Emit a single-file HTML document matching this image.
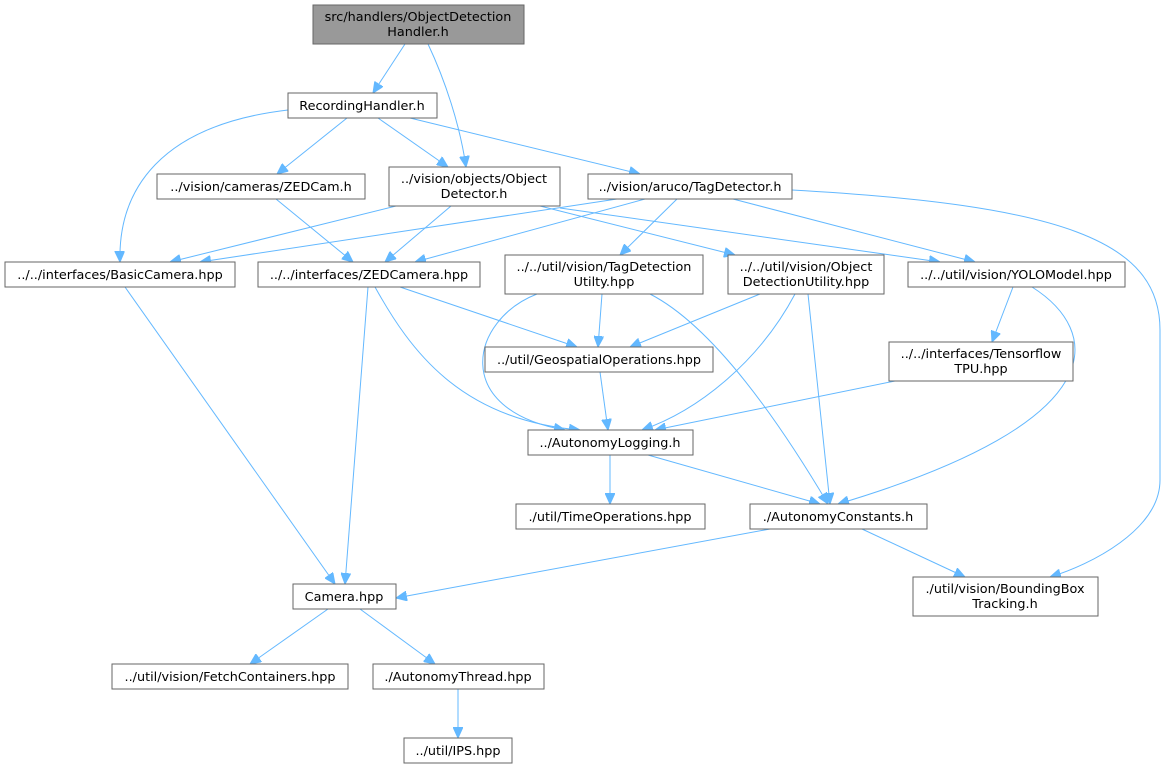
<!DOCTYPE html>
<html><head><meta charset="utf-8"><style>
body{margin:0;background:#fff}
svg text{font-family:"DejaVu Sans","Liberation Sans",sans-serif;font-size:12.8px;fill:#000;text-anchor:middle}
.n{fill:#fff;stroke:#666;stroke-width:1}
.e{fill:none;stroke:#63b8ff;stroke-width:1}
</style></head><body>
<svg width="1169" height="769" viewBox="0 0 1169 769" xmlns="http://www.w3.org/2000/svg">
<defs><marker id="a" markerUnits="userSpaceOnUse" markerWidth="12" markerHeight="10" refX="11" refY="5" orient="auto"><path d="M0,0 L11,5 L0,10 Z" fill="#63b8ff" stroke="#63b8ff"/></marker></defs>
<g class="e" marker-end="url(#a)">
<path d="M405,44 L373,93"/>
<path d="M428,44 C445,80 460,125 466,167"/>
<path d="M288,110 C160,125 118,190 120,262"/>
<path d="M347,118 L277,174"/>
<path d="M378,118 L448,167"/>
<path d="M410,118 L640,174"/>
<path d="M276,199 L353,262"/>
<path d="M396,206 L170,262"/>
<path d="M451,206 L385,262"/>
<path d="M540,206 L735,255"/>
<path d="M560,208 L940,262"/>
<path d="M617,199 L200,262"/>
<path d="M645,199 L415,262"/>
<path d="M677,199 L620,255"/>
<path d="M733,199 L975,262"/>
<path d="M792,190 C1060,205 1160,240 1160,330 L1160,480 C1160,530 1090,565 1050,577"/>
<path d="M368,287 L345,584"/>
<path d="M375,287 C410,350 460,420 580,430"/>
<path d="M400,287 L577,347"/>
<path d="M602,294 L598,347"/>
<path d="M537,294 C470,320 450,410 565,430"/>
<path d="M650,294 C720,330 790,440 828,504"/>
<path d="M760,294 L630,347"/>
<path d="M795,294 C760,360 700,410 642,430"/>
<path d="M808,294 L830,504"/>
<path d="M1013,287 L992,342"/>
<path d="M1032,287 C1100,330 1120,420 838,504"/>
<path d="M895,381 L655,430"/>
<path d="M600,372 L608,430"/>
<path d="M610,455 L610,504"/>
<path d="M648,455 L820,504"/>
<path d="M770,529 L396,598"/>
<path d="M862,529 L965,577"/>
<path d="M125,287 L335,584"/>
<path d="M328,609 L250,664"/>
<path d="M360,609 L435,664"/>
<path d="M458,689 L458,738"/>
</g>
<rect x="313" y="5" width="211" height="39" fill="#999" stroke="#666"/>
<text x="418" y="21">src/handlers/ObjectDetection</text><text x="418" y="36">Handler.h</text>
<rect class="n" x="288" y="93" width="149" height="25"/><text x="362" y="110">RecordingHandler.h</text>
<rect class="n" x="157" y="174" width="208" height="25"/><text x="261" y="191">../vision/cameras/ZEDCam.h</text>
<rect class="n" x="389" y="167" width="171" height="39"/><text x="474" y="183">../vision/objects/Object</text><text x="474" y="198">Detector.h</text>
<rect class="n" x="588" y="174" width="204" height="25"/><text x="690" y="191">../vision/aruco/TagDetector.h</text>
<rect class="n" x="5" y="262" width="230" height="25"/><text x="120" y="279">../../interfaces/BasicCamera.hpp</text>
<rect class="n" x="258" y="262" width="222" height="25"/><text x="369" y="279">../../interfaces/ZEDCamera.hpp</text>
<rect class="n" x="505" y="255" width="198" height="39"/><text x="604" y="271">../../util/vision/TagDetection</text><text x="604" y="286">Utilty.hpp</text>
<rect class="n" x="728" y="255" width="156" height="39"/><text x="806" y="271">../../util/vision/Object</text><text x="806" y="286">DetectionUtility.hpp</text>
<rect class="n" x="908" y="262" width="217" height="25"/><text x="1016" y="279">../../util/vision/YOLOModel.hpp</text>
<rect class="n" x="485" y="347" width="228" height="25"/><text x="599" y="364">../util/GeospatialOperations.hpp</text>
<rect class="n" x="889" y="342" width="184" height="39"/><text x="981" y="358">../../interfaces/Tensorflow</text><text x="981" y="373">TPU.hpp</text>
<rect class="n" x="528" y="430" width="165" height="25"/><text x="610" y="447">../AutonomyLogging.h</text>
<rect class="n" x="516" y="504" width="189" height="25"/><text x="610" y="521">./util/TimeOperations.hpp</text>
<rect class="n" x="750" y="504" width="177" height="25"/><text x="838" y="521">./AutonomyConstants.h</text>
<rect class="n" x="293" y="584" width="103" height="25"/><text x="344" y="601">Camera.hpp</text>
<rect class="n" x="913" y="577" width="185" height="39"/><text x="1005" y="593">./util/vision/BoundingBox</text><text x="1005" y="608">Tracking.h</text>
<rect class="n" x="112" y="664" width="236" height="25"/><text x="230" y="681">../util/vision/FetchContainers.hpp</text>
<rect class="n" x="373" y="664" width="171" height="25"/><text x="458" y="681">./AutonomyThread.hpp</text>
<rect class="n" x="404" y="738" width="108" height="25"/><text x="458" y="755">../util/IPS.hpp</text>
</svg>
</body></html>
